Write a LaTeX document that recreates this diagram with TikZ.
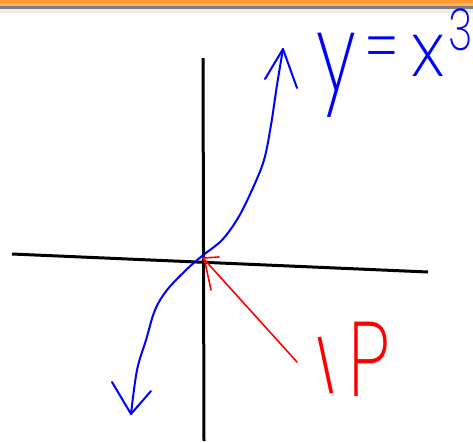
\documentclass[tikz,border=0pt]{standalone}
\usepackage{fontspec}
\usepackage{graphicx}
\newfontfamily\hand{Poppins ExtraLight}
\definecolor{barorange}{RGB}{255,153,51}
\definecolor{barorangelt}{RGB}{255,178,90}
\definecolor{bargray}{RGB}{128,128,128}
\definecolor{bargraylt}{RGB}{236,236,236}
\begin{document}
\begin{tikzpicture}[x=1pt,y=-1pt,
  axisline/.style={black,line width=3pt},
  bluecurve/.style={blue,line width=2pt,line cap=round,line join=round},
  redline/.style={red,line width=1.6pt,line cap=round,line join=round},
  handtext/.style={inner sep=0pt,outer sep=0pt}]
\useasboundingbox (0,0) rectangle (473,442);
% top bar
\fill[barorange] (0,0) rectangle (473,3);
\fill[barorangelt] (0,3) rectangle (473,6);
\fill[bargray] (0,6) rectangle (473,9);
\fill[bargraylt] (0,9) rectangle (473,13);
% axes
\coordinate (xl) at (12,254);
\coordinate (xr) at (428,272);
\coordinate (yt) at (203,58);
\coordinate (yb) at (204,441);
\coordinate (O) at (202,257);
\draw[axisline] (xl) -- (xr);
\draw[axisline] (yt) -- (yb);
% cubic curve
\coordinate (ttip) at (283,49);
\coordinate (btip) at (131,414);
\draw[bluecurve] plot[smooth,tension=0.55] coordinates {(283,49) (277,85) (271,125) (264,160) (252,190) (238,218) (222,240) (202,256) (186,270) (167,290) (155,310) (146,340) (137,370) (131,414)};
\draw[bluecurve] (265,79) -- (ttip) -- (297,88);
\draw[bluecurve] (112,382) -- (btip) -- (151,391);
% red pointer
\coordinate (rtail) at (297,362);
\coordinate (rtip) at (203,258);
\draw[redline] (rtail) -- (rtip);
\draw[redline] (211,290) -- (205,262) -- (rtip) -- (219,257);
% labels
\node[handtext,blue,anchor=north,font=\hand\fontsize{66}{66}\selectfont] (ly) at (336,33) {\scalebox{1.15}[1.6]{y}};
\node[handtext,blue,font=\hand\fontsize{48}{48}\selectfont] (leq) at (382,56) {\scalebox{1.1}[1.6]{=}};
\node[handtext,blue,font=\hand\fontsize{76}{76}\selectfont] (lx) at (428,56) {x};
\node[handtext,blue,anchor=west,font=\hand\fontsize{58}{58}\selectfont] (l3) at (448,30) {\scalebox{0.72}[1]{3}};
\node[handtext,red,rotate=12,font=\hand\fontsize{82}{82}\selectfont] (lI) at (326,366) {I};
\node[handtext,red,anchor=south west,font=\hand\fontsize{106}{106}\selectfont] (lP) at (348,396) {\scalebox{0.72}[1]{P}};
\end{tikzpicture}
\end{document}
